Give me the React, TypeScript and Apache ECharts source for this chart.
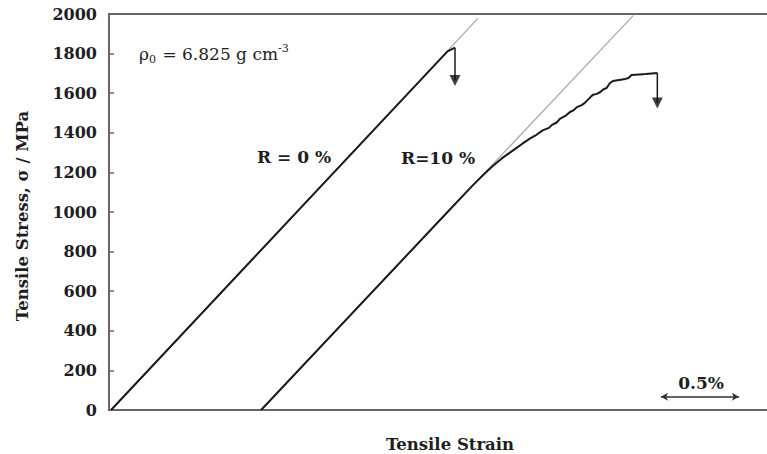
import React, { useEffect, useRef } from "react";
import * as echarts from "echarts";

// Stress (MPa) vs strain (%) data
const yTicks = [0, 200, 400, 600, 800, 1000, 1200, 1400, 1600, 1800, 2000];

const r0Curve: [number, number][] = [
  [0.013, 0],
  [2.17, 1811],
  [2.218, 1830],
];
const r0Guide: [number, number][] = [
  [0.013, 0],
  [2.365, 1978],
];
const r0Arrow: [number, number][] = [
  [2.218, 1830],
  [2.218, 1664],
];

const r10Curve: [number, number][] = [
  [0.975, 0], [2.17, 1000], [2.33, 1133], [2.40, 1188], [2.46, 1232],
  [2.52, 1272], [2.57, 1300], [2.615, 1325], [2.65, 1345], [2.7, 1372],
  [2.74, 1390], [2.78, 1412], [2.82, 1425], [2.84, 1440], [2.87, 1452],
  [2.89, 1470], [2.93, 1488], [2.955, 1505], [2.98, 1515], [3.0, 1530],
  [3.03, 1540], [3.05, 1551], [3.08, 1575], [3.1, 1591], [3.13, 1598],
  [3.15, 1606], [3.17, 1620], [3.19, 1626], [3.21, 1650], [3.23, 1662],
  [3.27, 1667], [3.3, 1670], [3.33, 1677], [3.35, 1692], [3.4, 1695],
  [3.44, 1697], [3.48, 1700], [3.515, 1702],
];
const r10Guide: [number, number][] = [
  [0.975, 0],
  [3.36, 1992],
];
const r10Arrow: [number, number][] = [
  [3.515, 1702],
  [3.515, 1550],
];

const scaleBar: [number, number][] = [
  [3.538, 67],
  [4.038, 67],
];

const FONT = "DejaVu Serif";
const TXT = "#1e1e1e";

export default function App() {
  const ref = useRef<HTMLDivElement>(null);
  useEffect(() => {
    if (!ref.current) return;
    const chart = echarts.init(ref.current, null, { renderer: "svg" });
    const blackLine = { color: "#1a1a1a", width: 2 };
    const greyLine = { color: "#aaaaaa", width: 1.3 };
    chart.setOption({
      animation: false,
      backgroundColor: "#fff",
      grid: { left: 109, right: 0, top: 14, bottom: 44 },
      xAxis: [
        {
          type: "value",
          min: 0,
          max: 4.218,
          axisLine: { show: true, lineStyle: { color: "#666", width: 2 } },
          axisTick: { show: false },
          axisLabel: { show: false },
          splitLine: { show: false },
        },
        {
          type: "value",
          position: "top",
          min: 0,
          max: 4.218,
          axisLine: { show: true, lineStyle: { color: "#666", width: 2 } },
          axisTick: { show: false },
          axisLabel: { show: false },
          splitLine: { show: false },
        },
      ],
      yAxis: {
        type: "value",
        min: yTicks[0],
        max: yTicks[yTicks.length - 1],
        interval: 200,
        name: "Tensile Stress, σ / MPa",
        nameLocation: "middle",
        nameGap: 78,
        nameTextStyle: { fontFamily: FONT, fontWeight: "bold", fontSize: 16.5, color: TXT, padding: [0, 8, 0, 0] },
        axisLine: { show: true, lineStyle: { color: "#666", width: 2 } },
        axisTick: { show: true, inside: true, length: 5, lineStyle: { color: "#666", width: 1.5 } },
        axisLabel: {
          fontFamily: FONT,
          fontWeight: "bold",
          fontSize: 16,
          color: TXT,
          margin: 12,
          padding: [6, 0, 0, 0],
          formatter: (v: number) => String(v),
        },
        splitLine: { show: false },
      },
      series: [
        { type: "line", data: r0Guide, symbol: "none", lineStyle: greyLine, z: 1 },
        { type: "line", data: r10Guide, symbol: "none", lineStyle: greyLine, z: 1 },
        { type: "line", data: r0Curve, symbol: "none", lineStyle: blackLine, z: 3 },
        { type: "line", data: r10Curve, symbol: "none", lineStyle: blackLine, z: 3 },
        { type: "line", data: r0Arrow, symbol: "none", lineStyle: { color: "#1a1a1a", width: 1.5 }, z: 3 },
        { type: "line", data: r10Arrow, symbol: "none", lineStyle: { color: "#1a1a1a", width: 1.5 }, z: 3 },
        {
          type: "scatter",
          data: [r0Arrow[1], r10Arrow[1]],
          symbol: "triangle",
          symbolRotate: 180,
          symbolSize: [11, 11],
          itemStyle: { color: "#111" },
          z: 4,
        },
        {
          type: "line",
          data: [],
          symbol: "none",
          markLine: {
            silent: true,
            symbol: ["arrow", "arrow"],
            symbolSize: [6, 7],
            lineStyle: { color: "#333", width: 1.6, type: "solid" },
            label: { show: false },
            data: [[{ coord: scaleBar[0] }, { coord: scaleBar[1] }]],
          },
        },
      ],
      graphic: [
        {
          type: "text",
          x: 139,
          y: 54,
          style: {
            text: "{a|ρ}{s|0}{a| = 6.825 g cm}{p|-3}",
            verticalAlign: "middle",
            align: "left",
            fill: TXT,
            rich: {
              a: { fontFamily: FONT, fontSize: 17, fill: TXT, lineHeight: 22 },
              s: { fontFamily: FONT, fontSize: 11, fill: TXT, lineHeight: 22, verticalAlign: "bottom", padding: [0, 1, 0, 0] },
              p: { fontFamily: FONT, fontSize: 11, fill: TXT, lineHeight: 22, verticalAlign: "top" },
            },
          },
        },
        {
          type: "text",
          x: 257,
          y: 157,
          style: { text: "R = 0 %", fontFamily: FONT, fontWeight: "bold", fontSize: 17, fill: TXT, align: "left", verticalAlign: "middle" },
        },
        {
          type: "text",
          x: 401,
          y: 158,
          style: { text: "R=10 %", fontFamily: FONT, fontWeight: "bold", fontSize: 17, fill: TXT, align: "left", verticalAlign: "middle" },
        },
        {
          type: "text",
          x: 701,
          y: 383,
          style: { text: "0.5%", fontFamily: FONT, fontWeight: "bold", fontSize: 17, fill: TXT, align: "center", verticalAlign: "middle" },
        },
        {
          type: "text",
          x: 450,
          y: 453,
          style: { text: "Tensile Strain", fontFamily: FONT, fontWeight: "bold", fontSize: 16.5, fill: TXT, align: "center", verticalAlign: "bottom" },
        },
      ],
    });
    return () => chart.dispose();
  }, []);
  return (
    <div
      ref={ref}
      style={{ position: "fixed", left: 0, top: 0, width: 767, height: 454, background: "#fff" }}
    />
  );
}
